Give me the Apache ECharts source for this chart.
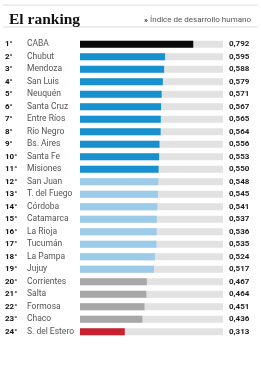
<!DOCTYPE html>
<html>
<head>
<meta charset="utf-8">
<script src="https://cdn.jsdelivr.net/npm/echarts@6/dist/echarts.min.js"></script>
<style>
html, body { margin: 0; padding: 0; background: #fff; }
#chart { width: 261px; height: 375px; }
</style>
</head>
<body>
<div id="chart"></div>
<script>
// ranking provincial - índice de desarrollo humano
var ranks = ['1°', '2°', '3°', '4°', '5°', '6°', '7°', '8°', '9°', '10°', '11°', '12°',
    '13°', '14°', '15°', '16°', '17°', '18°', '19°', '20°', '21°', '22°', '23°', '24°'];
var provincias = ['CABA', 'Chubut', 'Mendoza', 'San Luis', 'Neuquén', 'Santa Cruz', 'Entre Ríos',
    'Río Negro', 'Bs. Aires', 'Santa Fe', 'Misiones', 'San Juan', 'T. del Fuego', 'Córdoba',
    'Catamarca', 'La Rioja', 'Tucumán', 'La Pampa', 'Jujuy', 'Corrientes', 'Salta', 'Formosa',
    'Chaco', 'S. del Estero'];
var valores = [0.792, 0.595, 0.588, 0.579, 0.571, 0.567, 0.565, 0.564, 0.556, 0.553, 0.550,
    0.548, 0.545, 0.541, 0.537, 0.536, 0.535, 0.524, 0.517, 0.467, 0.464, 0.451, 0.436, 0.313];
var maximo = 1;

// color segun posicion
function colorDe(i) {
    if (i === 0) return '#0a0a0a';
    if (i <= 10) return '#1690cf';
    if (i <= 18) return '#9ccbe9';
    if (i <= 22) return '#a8a8a8';
    return '#c8202e';
}

var chart = echarts.init(document.getElementById('chart'));
var opt = {
    animation: false,
    title: [{
        text: 'El ranking',
        left: 4,
        top: 7,
        textStyle: {
            fontFamily: 'Liberation Serif',
            fontWeight: 'bold',
            fontSize: 15.5,
            color: '#111'
        }
    }, {
        text: '{m|»} Índice de desarrollo humano',
        right: 5,
        top: 11,
        textStyle: {
            fontFamily: 'Roboto',
            fontWeight: 'normal',
            fontSize: 8,
            color: '#555',
            rich: {
                m: { fontSize: 8, fontWeight: 'bold', color: '#333', fontFamily: 'Roboto' }
            }
        }
    }],
    graphic: [
        { type: 'line', shape: { x1: 3, y1: 5, x2: 257, y2: 5 }, style: { stroke: '#dcdcdc', lineWidth: 1 } },
        { type: 'line', shape: { x1: 3, y1: 27, x2: 257, y2: 27 }, style: { stroke: '#dcdcdc', lineWidth: 1 } }
    ],
    grid: {
        left: 80,
        width: 143,
        top: 38,
        height: 300
    },
    xAxis: {
        type: 'value',
        min: 0,
        max: maximo,
        show: false
    },
    yAxis: {
        type: 'category',
        inverse: true,
        data: provincias,
        axisLine: { show: false },
        axisTick: { show: false },
        axisLabel: {
            interval: 0,
            align: 'left',
            margin: 75,
            formatter: function (v, i) {
                return '{r|' + ranks[i] + '}{n|' + v + '}';
            },
            rich: {
                r: { width: 22, fontFamily: 'Roboto', fontWeight: 'bold', fontSize: 8, color: '#111' },
                n: { fontFamily: 'Roboto', fontSize: 8.5, color: '#555' }
            }
        }
    },
    series: [{
        // fondo gris
        type: 'bar',
        data: provincias.map(function () { return maximo; }),
        barWidth: 7,
        barGap: '-100%',
        silent: true,
        itemStyle: { color: '#e2e2e2' },
        label: {
            show: true,
            position: 'right',
            distance: 6,
            formatter: function (p) {
                return valores[p.dataIndex].toFixed(3).replace('.', ',');
            },
            fontFamily: 'Roboto',
            fontWeight: 'bold',
            fontSize: 8,
            color: '#222'
        },
        z: 1
    }, {
        type: 'bar',
        data: valores.map(function (v, i) {
            return { value: v, itemStyle: { color: colorDe(i) } };
        }),
        barWidth: 7,
        z: 2
    }]
};
chart.setOption(opt);
</script>
</body>
</html>
